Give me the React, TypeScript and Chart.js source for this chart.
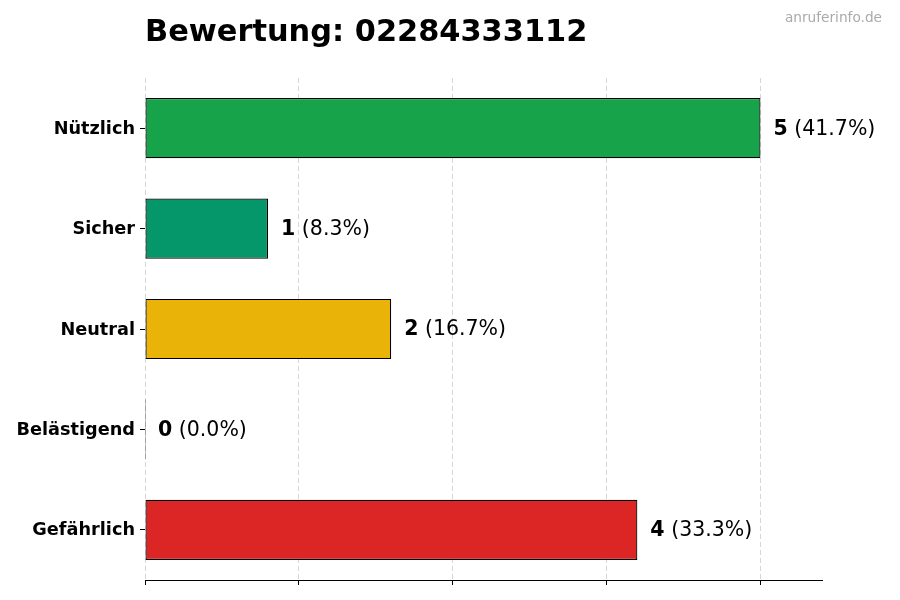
import { useEffect, useRef } from 'react'
import { Chart, registerables } from 'chart.js'

Chart.register(...registerables)

const title = 'Bewertung: 02284333112'
const watermark = 'anruferinfo.de'
const categories = ['Nützlich', 'Sicher', 'Neutral', 'Belästigend', 'Gefährlich']
const counts = [5, 1, 2, 0, 4]
const barColors = ['#16a34a', '#059669', '#eab308', '#f97316', '#dc2626']
const xTicks = [0, 1.25, 2.5, 3.75, 5]

const FONT = "'DejaVu Sans', sans-serif"

const labelsPlugin = {
    id: 'valueLabels',
    afterDatasetsDraw(chart: any) {
        const ctx = chart.ctx
        const total = counts.reduce((a, b) => a + b, 0)
        const xs = chart.scales.x
        const ys = chart.scales.y
        ctx.save()
        ctx.textBaseline = 'middle'
        ctx.textAlign = 'left'
        counts.forEach((v, i) => {
            const x = xs.getPixelForValue(v) + 13
            const y = ys.getPixelForValue(i) + 1
            ctx.fillStyle = '#000'
            ctx.font = `bold 20.5px ${FONT}`
            const num = String(v)
            ctx.fillText(num, x, y)
            const w = ctx.measureText(num).width
            ctx.font = `20.5px ${FONT}`
            ctx.fillText(` (${((v / total) * 100).toFixed(1)}%)`, x + w, y)
        })
        // title + watermark
        ctx.textBaseline = 'alphabetic'
        ctx.fillStyle = '#000'
        ctx.font = `bold 30.4px ${FONT}`
        ctx.fillText(title, chart.chartArea.left, 41)
        ctx.textAlign = 'right'
        ctx.textBaseline = 'middle'
        ctx.fillStyle = '#aaaaaa'
        ctx.font = `13.7px ${FONT}`
        ctx.fillText(watermark, 882, 18)
        ctx.restore()
    },
}

export default function App() {
    const canvasRef = useRef<HTMLCanvasElement | null>(null)
    const chartRef = useRef<Chart | null>(null)

    useEffect(() => {
        document.body.style.margin = '0'
        const ctx = canvasRef.current?.getContext('2d')
        if (!ctx) return
        chartRef.current = new Chart(ctx, {
            type: 'bar',
            data: {
                labels: categories,
                datasets: [
                    {
                        data: counts,
                        backgroundColor: barColors,
                        borderColor: '#000',
                        borderWidth: 1.2,
                        borderSkipped: false,
                        barPercentage: 0.6,
                        categoryPercentage: 1,
                        minBarLength: 1,
                    },
                ],
            },
            options: {
                indexAxis: 'y',
                animation: false,
                responsive: false,
                maintainAspectRatio: false,
                layout: { padding: { top: 78, right: 78, bottom: 0, left: 0 } },
                plugins: {
                    legend: { display: false },
                    tooltip: { enabled: false },
                    title: { display: false },
                },
                scales: {
                    x: {
                        type: 'linear',
                        min: 0,
                        max: 5.5,
                        z: 1,
                        afterBuildTicks: (scale: any) => {
                            scale.ticks = xTicks.map((value) => ({ value }))
                        },
                        afterFit: (scale: any) => {
                            scale.height = 20
                        },
                        ticks: { display: false },
                        grid: {
                            color: 'rgba(0,0,0,0.16)',
                            tickColor: '#000',
                            tickLength: 5,
                            tickBorderDash: [],
                        },
                        border: { display: true, color: '#000', width: 1, dash: [5, 3] },
                    },
                    y: {
                        type: 'category',
                        afterFit: (scale: any) => {
                            scale.width = 145
                        },
                        ticks: {
                            color: '#000',
                            font: { family: FONT, size: 17.7, weight: 'bold' },
                            padding: 5,
                            labelOffset: 1,
                        },
                        grid: {
                            offset: false,
                            drawOnChartArea: false,
                            tickColor: '#000',
                            tickLength: 5,
                        },
                        border: { display: false },
                    },
                },
            },
            plugins: [labelsPlugin],
        } as any)
        return () => chartRef.current?.destroy()
    }, [])

    return <canvas ref={canvasRef} width={900} height={600} style={{ display: 'block' }} />
}
